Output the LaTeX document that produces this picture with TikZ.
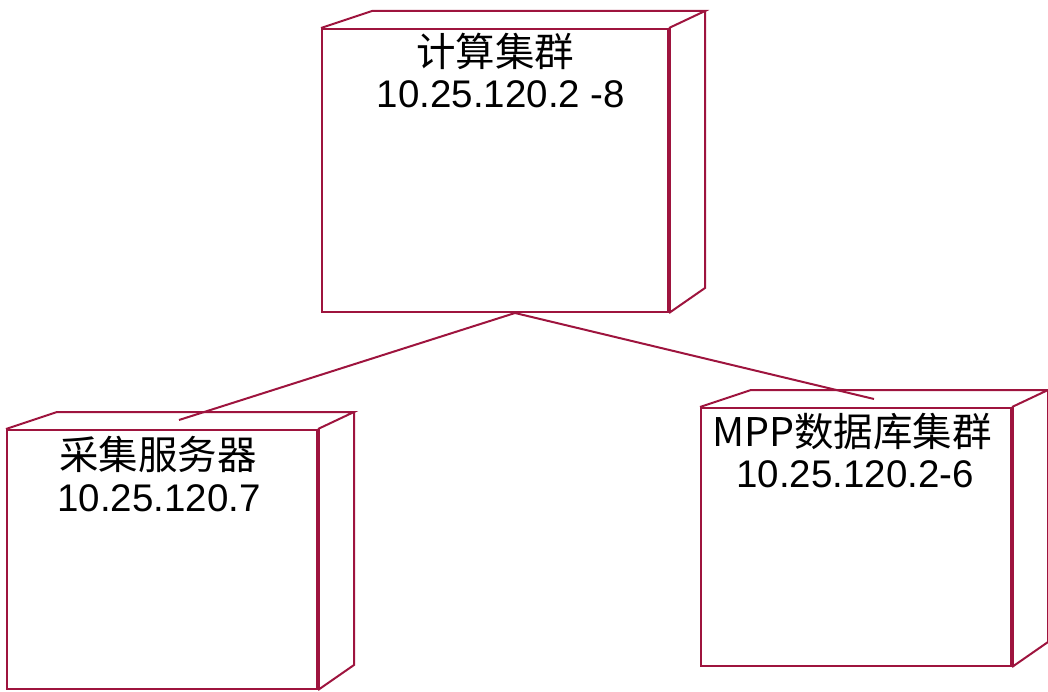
\documentclass[tikz,border=0pt]{standalone}
\usepackage{fontspec}
\setmainfont{Liberation Sans}
\newfontfamily\cjk{Noto Sans CJK SC}
\usetikzlibrary{calc}
\definecolor{umlred}{RGB}{158,20,62}
\begin{document}
\begin{tikzpicture}[x=1pt,y=-1pt,
  front/.style={draw=umlred,line width=2pt,inner sep=0pt,rectangle},
  edge3d/.style={draw=umlred,line width=2pt,line join=miter},
  thickedge/.style={draw=umlred,line width=3.5pt},
  link/.style={draw=umlred,line width=2pt},
  zh/.style={anchor=base,inner sep=0pt,font=\cjk\fontsize{39.5}{42}\selectfont},
  num/.style={anchor=base,inner sep=0pt,font=\fontsize{38.5}{42}\selectfont},
]
\useasboundingbox (0,0) rectangle (1048,692);

% front faces
\node[front,minimum width=346pt,minimum height=283pt] (calc) at (495,170.5) {};
\node[front,minimum width=310pt,minimum height=259pt] (coll) at (162,559.5) {};
\node[front,minimum width=310pt,minimum height=258pt] (mpp) at (856,537) {};

% 3D parts
\foreach \n in {calc,coll,mpp}{
  \draw[edge3d] (\n.north west) -- ++(51,-17) -- ($(\n.north east)+(36,-17)$) -- (\n.north east);
  \draw[edge3d] ($(\n.north east)+(36,-17)$) -- ($(\n.south east)+(36,-25)$) -- (\n.south east);
  \draw[thickedge] (\n.north east) -- (\n.south east);
}

% connectors
\coordinate (c1) at ($(calc.south)+(20,0)$);
\coordinate (c2) at ($(coll.north west)+(173,-9)$);
\coordinate (c3) at ($(mpp.north west)+(174,-8)$);
\draw[link] (c1) -- (c2);
\draw[link] (c1) -- (c3);

% labels
\node[zh]  (t1a) at (495,67) {计算集群};
\node[num] (t1b) at (501,108) {10.25.120.2 -8};
\node[zh]  (t2a) at (158,469) {采集服务器};
\node[num] (t2b) at (159,511) {10.25.120.7};
\node[zh]  (t3a) at (852,446) {MPP数据库集群};
\node[num] (t3b) at (855,487) {10.25.120.2-6};
\end{tikzpicture}
\end{document}
